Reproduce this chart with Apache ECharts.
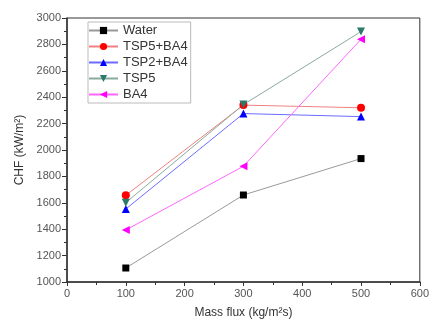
<!DOCTYPE html>
<html><head><meta charset="utf-8">
<script src="https://cdn.jsdelivr.net/npm/echarts@6/dist/echarts.min.js"></script>
<style>html,body{margin:0;padding:0;background:#fff}#c{width:432px;height:324px}</style>
</head><body><div id="c"></div>
<script>
const massFlux = [100, 300, 500];
const water = [1106, 1659, 1935];
const tsp5ba4 = [1657, 2340, 2320];
const tsp2ba4 = [1553, 2276, 2253];
const tsp5 = [1601, 2344, 2897];
const ba4 = [1394, 1877, 2839];
const seriesNames = ['Water', 'TSP5+BA4', 'TSP2+BA4', 'TSP5', 'BA4'];

const chart = echarts.init(document.getElementById('c'), null, {renderer: 'canvas'});
function pts(v) { return massFlux.map((x, i) => [x, v[i]]); }
function mk(name, data, symbol, rot, mColor, lColor, size) {
  return {
    name, type: 'line', data: pts(data), symbol, symbolRotate: rot, symbolSize: size,
    itemStyle: {color: mColor},
    lineStyle: {color: lColor, width: 1},
    z: 3
  };
}
const font = 'Liberation Sans, Arial, sans-serif';
chart.setOption({
  animation: false,
  grid: {left: 67, right: 6, top: 18, bottom: 41, show: true, borderColor: '#333', borderWidth: 1},
  legend: {
    orient: 'vertical', left: 88, top: 22,
    itemWidth: 29, itemHeight: 9, itemGap: 3,
    borderColor: '#bbb', borderWidth: 1, padding: [2, 3, 2, 0],
    textStyle: {fontFamily: font, fontSize: 13, color: '#333'},
    data: seriesNames
  },
  xAxis: {
    type: 'value', min: 0, max: 600, interval: 100,
    name: 'Mass flux (kg/m²s)', nameLocation: 'middle', nameGap: 25,
    nameTextStyle: {fontFamily: font, fontSize: 12, color: '#333'},
    axisLine: {show: true, lineStyle: {color: '#333', width: 1.5}},
    axisTick: {show: true, length: 4, lineStyle: {color: '#333'}},
    minorTick: {show: true, splitNumber: 2, length: 3, lineStyle: {color: '#333'}},
    axisLabel: {fontFamily: font, fontSize: 11, color: '#555', margin: 6},
    splitLine: {show: false}
  },
  yAxis: {
    type: 'value', min: 1000, max: 3000, interval: 200,
    name: 'CHF (kW/m²)', nameLocation: 'middle', nameGap: 39, nameRotate: 90,
    nameTextStyle: {fontFamily: font, fontSize: 12, color: '#333'},
    axisLine: {show: true, lineStyle: {color: '#333', width: 1.5}},
    axisTick: {show: true, length: 5, lineStyle: {color: '#333'}},
    minorTick: {show: true, splitNumber: 2, length: 3, lineStyle: {color: '#333'}},
    axisLabel: {fontFamily: font, fontSize: 11, color: '#555', margin: 6, formatter: v => String(v)},
    splitLine: {show: false}
  },
  series: [
    mk('Water', water, 'rect', 0, '#000', '#999', 7),
    mk('TSP5+BA4', tsp5ba4, 'circle', 0, '#ff0000', '#f08080', 8),
    mk('TSP2+BA4', tsp2ba4, 'triangle', 0, '#0000ff', '#6b6bff', 8),
    mk('TSP5', tsp5, 'triangle', 180, '#2a7a6a', '#8aaa9a', 8),
    mk('BA4', ba4, 'triangle', 90, '#ff00ff', '#ff66ff', 8)
  ]
});
</script></body></html>
